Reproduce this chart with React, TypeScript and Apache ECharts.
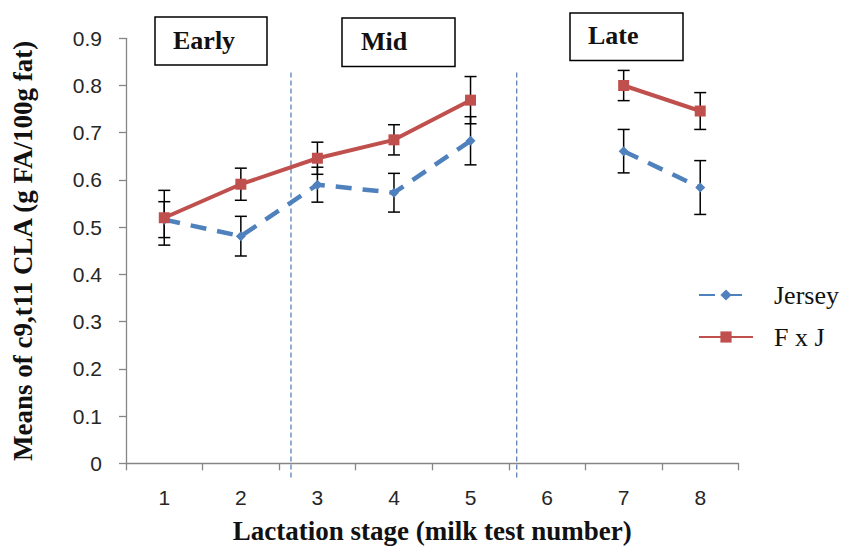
import React, { useEffect, useRef } from "react";
import * as echarts from "echarts";

const categories = ["1", "2", "3", "4", "5", "6", "7", "8"];
const jerseyMeans = [0.516, 0.481, 0.59, 0.573, 0.683, null, 0.661, 0.584];
const jerseyErrors = [0.038, 0.042, 0.037, 0.041, 0.051, null, 0.046, 0.057];
const fxjMeans = [0.52, 0.591, 0.646, 0.685, 0.769, null, 0.8, 0.746];
const fxjErrors = [0.058, 0.034, 0.034, 0.032, 0.05, null, 0.032, 0.039];
const stageBoundaries = [2.655, 5.603];
const boundaryExtent = [-0.03, 0.83];
const stageLabels = ["Early", "Mid", "Late"];

const BLUE = "#4F81BD";
const RED = "#C0504D";
const AXIS = "#868686";

function errorData(means: (number | null)[], errs: (number | null)[]) {
  const out: number[][] = [];
  means.forEach((m, i) => {
    if (m != null && errs[i] != null) out.push([i, m, errs[i] as number]);
  });
  return out;
}

function errorRender(params: any, api: any) {
  const i = api.value(0);
  const m = api.value(1);
  const e = api.value(2);
  const top = api.coord([i, m + e]);
  const bot = api.coord([i, m - e]);
  const hw = 6;
  const st = { stroke: "#000", lineWidth: 1.5 };
  return {
    type: "group",
    children: [
      { type: "line", shape: { x1: top[0], y1: top[1], x2: bot[0], y2: bot[1] }, style: st },
      { type: "line", shape: { x1: top[0] - hw, y1: top[1], x2: top[0] + hw, y2: top[1] }, style: st },
      { type: "line", shape: { x1: bot[0] - hw, y1: bot[1], x2: bot[0] + hw, y2: bot[1] }, style: st },
    ],
  };
}

const SERIF = "Liberation Serif";
const boxFont = 'bold 26px "Liberation Serif"';

function stageBox(label: string, x: number, y: number, w: number, h: number, tx: number, ty: number) {
  return {
    type: "group",
    children: [
      { type: "rect", shape: { x, y, width: w, height: h }, style: { fill: "#fff", stroke: "#000", lineWidth: 1.5 } },
      {
        type: "text",
        style: { text: label, x: tx, y: ty, font: boxFont, fill: "#111", textAlign: "left", textVerticalAlign: "middle" },
      },
    ],
  };
}

export default function App() {
  const ref = useRef<HTMLDivElement>(null);
  useEffect(() => {
    if (!ref.current) return;
    const chart = echarts.init(ref.current, null, { renderer: "svg" });
    const option: any = {
      animation: false,
      backgroundColor: "#fff",
      textStyle: { fontFamily: SERIF },
      grid: { left: 126, right: 106.5, top: 38.3, bottom: 89.7, containLabel: false },
      legend: {
        data: ["Jersey", "F x J"],
        orient: "vertical",
        left: 693,
        top: 277,
        itemWidth: 54,
        itemHeight: 14,
        itemGap: 16,
        formatter: (name: string) => "{t|" + name + "}",
        textStyle: {
          fontFamily: SERIF,
          fontSize: 26,
          color: "#111",
          rich: {
            t: { fontFamily: SERIF, fontSize: 26, color: "#111", lineHeight: 26, padding: [0, 0, 0, 16] },
          },
        },
      },
      xAxis: [
        {
          type: "category",
          data: categories,
          boundaryGap: true,
          axisLine: { lineStyle: { color: AXIS, width: 1.3 } },
          axisTick: { show: true, length: 7, lineStyle: { color: AXIS, width: 1.3 } },
          axisLabel: {
            margin: 24,
            fontFamily: "Liberation Sans",
            fontSize: 21,
            color: "#262626",
          },
          name: "Lactation stage (milk test number)",
          nameLocation: "middle",
          nameGap: 54,
          nameTextStyle: {
            fontFamily: SERIF,
            fontWeight: "bold",
            fontSize: 27,
            color: "#111",
          },
          splitLine: { show: false },
        },
        { type: "value", min: 0.5, max: 8.5, show: false, gridIndex: 0 },
      ],
      yAxis: {
        type: "value",
        min: 0,
        max: 0.9,
        interval: 0.1,
        axisLine: { show: true, lineStyle: { color: AXIS, width: 1.3 } },
        axisTick: { show: true, length: 7, lineStyle: { color: AXIS, width: 1.3 } },
        splitLine: { show: false },
        axisLabel: {
          margin: 24,
          fontFamily: "Liberation Sans",
          fontSize: 21,
          color: "#262626",
        },
        name: "Means of c9,t11 CLA (g FA/100g fat)",
        nameLocation: "middle",
        nameGap: 90,
        nameTextStyle: {
          fontFamily: SERIF,
          fontWeight: "bold",
          fontSize: 27,
          color: "#111",
        },
      },
      series: [
        ...stageBoundaries.map((b) => ({
          type: "line",
          xAxisIndex: 1,
          data: [
            [b, boundaryExtent[0]],
            [b, boundaryExtent[1]],
          ],
          symbol: "none",
          clip: false,
          silent: true,
          lineStyle: { color: "#5B83B5", width: 1.3, type: [5, 3] },
          z: 1,
        })),
        {
          type: "custom",
          name: "jerseyErr",
          renderItem: errorRender,
          data: errorData(jerseyMeans, jerseyErrors),
          encode: { x: 0, y: 1 },
          z: 2,
        },
        {
          type: "custom",
          name: "fxjErr",
          renderItem: errorRender,
          data: errorData(fxjMeans, fxjErrors),
          encode: { x: 0, y: 1 },
          z: 2,
        },
        {
          type: "line",
          name: "Jersey",
          data: jerseyMeans,
          connectNulls: false,
          symbol: "diamond",
          symbolSize: 10,
          itemStyle: { color: BLUE },
          lineStyle: { color: BLUE, width: 4.5, type: [16, 11] },
          z: 3,
        },
        {
          type: "line",
          name: "F x J",
          data: fxjMeans,
          connectNulls: false,
          symbol: "rect",
          symbolSize: 11,
          itemStyle: { color: RED },
          lineStyle: { color: RED, width: 4 },
          z: 4,
        },
      ],
      graphic: [
        stageBox(stageLabels[0], 155, 17, 112, 48, 173, 40.5),
        stageBox(stageLabels[1], 342, 18, 113, 48.5, 361, 41.7),
        stageBox(stageLabels[2], 570, 13, 113, 47.5, 588, 35),
      ],
    };
    chart.setOption(option);
    return () => chart.dispose();
  }, []);
  return (
    <div
      ref={ref}
      style={{ position: "fixed", left: 0, top: 0, width: 845, height: 553, background: "#fff" }}
    />
  );
}
